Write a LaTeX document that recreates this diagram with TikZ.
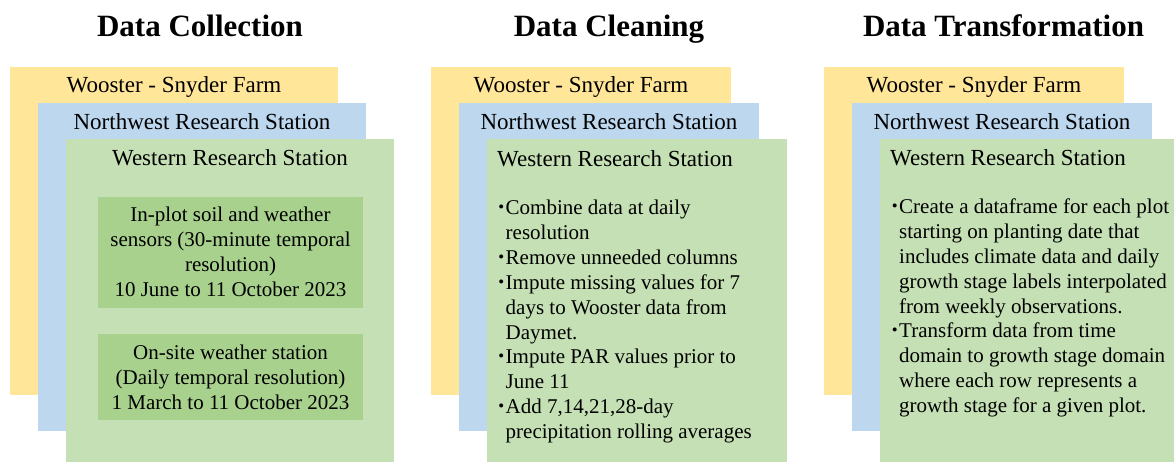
\documentclass[tikz,border=0pt]{standalone}
\usepackage{fontspec}
\setmainfont{Liberation Serif}
\usepackage{array}
\definecolor{yel}{HTML}{FFE699}
\definecolor{blu}{HTML}{BDD7EE}
\definecolor{grn}{HTML}{C5E0B4}
\definecolor{dgrn}{HTML}{A9D18E}
\newcommand{\myleft}[1]{\begin{tabular}[t]{@{}l@{}}#1\end{tabular}}
\newcommand{\mycent}[1]{\begin{tabular}[t]{@{}c@{}}#1\end{tabular}}
\newcommand{\bul}{\makebox[6.5pt][l]{\hspace*{-0.9pt}\raisebox{2.0pt}{\scalebox{0.8}{\textbullet}}}}
\newcommand{\ind}{\hspace*{6.5pt}}
\begin{document}
\begin{tikzpicture}[x=1pt,y=-1pt,
  panel/.style={anchor=north west, inner sep=0pt, outer sep=0pt},
  title/.style={anchor=base, inner sep=0pt, font=\fontsize{31}{36}\selectfont\bfseries},
  head/.style={anchor=base, inner sep=0pt, font=\fontsize{23}{27}\selectfont},
  headl/.style={anchor=base west, inner sep=0pt, font=\fontsize{23}{27}\selectfont},
  body/.style={anchor=base west, inner sep=0pt, font=\fontsize{21}{24.8}\selectfont},
  bodyc/.style={anchor=base, inner sep=0pt, font=\fontsize{21}{25}\selectfont}]
\useasboundingbox (0,0) rectangle (1174,462);
\fill[white] (0,0) rectangle (1174,462);

% titles
\node[title] (t1) at (200,37) {Data Collection};
\node[title] (t2) at (609,37) {Data Cleaning};
\node[title] (t3) at (1003.5,37) {Data Transformation};

% column 1
\node[panel, fill=yel, minimum width=328pt, minimum height=328pt] (y1) at (10,67) {};
\node[panel, fill=blu, minimum width=328pt, minimum height=328pt] (b1) at (38,103) {};
\node[panel, fill=grn, minimum width=328pt, minimum height=323pt] (g1) at (66,139) {};
\node[head] (y1t) at (174,93) {Wooster - Snyder Farm};
\node[head] (b1t) at (202,130) {Northwest Research Station};
\node[head] (g1t) at (230,166) {Western Research Station};
\node[panel, fill=dgrn, minimum width=265pt, minimum height=111pt] (i1) at (98,197) {};
\node[panel, fill=dgrn, minimum width=265pt, minimum height=86pt] (i2) at (98,334) {};
\node[bodyc] (i1t) at (230.5,222) {\mycent{In-plot soil and weather\\ sensors (30-minute temporal\\ resolution)\\ 10 June to 11 October 2023}};
\node[bodyc] (i2t) at (230.5,359.5) {\mycent{On-site weather station\\ (Daily temporal resolution)\\ 1 March to 11 October 2023}};

% column 2
\node[panel, fill=yel, minimum width=300pt, minimum height=328pt] (y2) at (431,67) {};
\node[panel, fill=blu, minimum width=300pt, minimum height=328pt] (b2) at (459,103) {};
\node[panel, fill=grn, minimum width=300pt, minimum height=323pt] (g2) at (487,139) {};
\node[head] (y2t) at (581,93) {Wooster - Snyder Farm};
\node[head] (b2t) at (609,130) {Northwest Research Station};
\node[headl] (g2t) at (497,167) {Western Research Station};
\node[body] (c2) at (499,215) {\myleft{\bul Combine data at daily\\ \ind resolution\\ \bul Remove unneeded columns\\ \bul Impute missing values for 7\\ \ind days to Wooster data from\\ \ind Daymet.\\ \bul Impute PAR values prior to\\ \ind June 11\\ \bul Add 7,14,21,28-day\\ \ind precipitation rolling averages}};

% column 3
\node[panel, fill=yel, minimum width=300pt, minimum height=328pt] (y3) at (824,67) {};
\node[panel, fill=blu, minimum width=300pt, minimum height=328pt] (b3) at (852,103) {};
\node[panel, fill=grn, minimum width=294pt, minimum height=323pt] (g3) at (880,139) {};
\node[head] (y3t) at (974,93) {Wooster - Snyder Farm};
\node[head] (b3t) at (1002,130) {Northwest Research Station};
\node[headl] (g3t) at (890,166) {Western Research Station};
\node[body] (c3) at (892.5,214) {\myleft{\bul Create a dataframe for each plot\\ \ind starting on planting date that\\ \ind includes climate data and daily\\ \ind growth stage labels interpolated\\ \ind from weekly observations.\\ \bul Transform data from time\\ \ind domain to growth stage domain\\ \ind where each row represents a\\ \ind growth stage for a given plot.}};
\end{tikzpicture}
\end{document}
